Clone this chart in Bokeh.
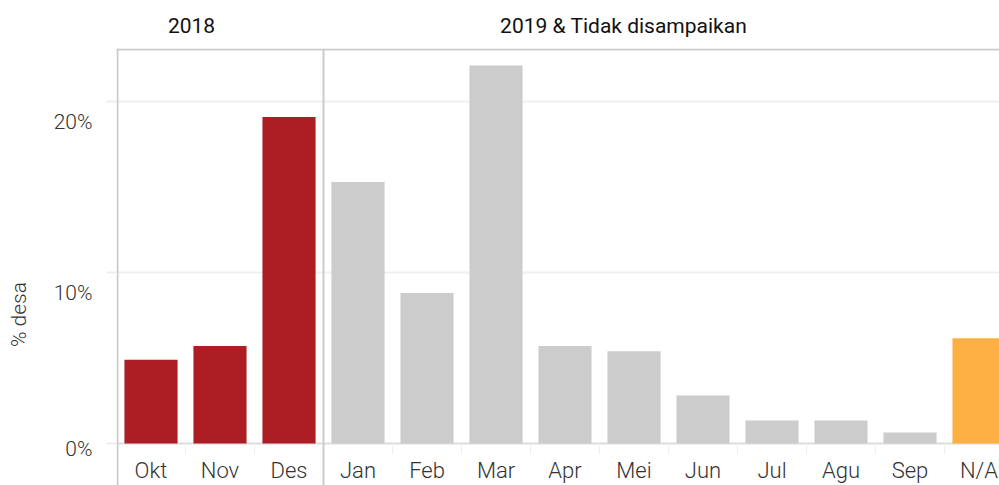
import numpy as np
from bokeh.plotting import figure
from bokeh.layouts import column, row
from bokeh.models import Range1d, Span, ColumnDataSource
from bokeh.core.properties import value
from bokeh.embed import file_html
from bokeh.resources import INLINE

# ---- data ----
months = ["Okt", "Nov", "Des", "Jan", "Feb", "Mar", "Apr", "Mei", "Jun", "Jul", "Agu", "Sep", "N/A"]
groups = ["2018", "2018", "2018", "2019", "2019", "2019", "2019", "2019", "2019", "2019", "2019", "2019", "NA"]
pct_desa = [4.9, 5.7, 19.1, 15.3, 8.8, 22.1, 5.7, 5.4, 2.8, 1.35, 1.35, 0.65, 6.15]
facet_titles = ["2018", "2019 & Tidak disampaikan"]
y_ticks = [0, 10, 20]
y_tick_labels = ["0%", "10%", "20%"]
y_title = "% desa"

group_colors = {"2018": "#AD1E24", "2019": "#CCCCCC", "NA": "#FDB042"}

FONT_LIGHT = value("'Roboto Light', Roboto")
FONT = value("Roboto")
TEXT_COLOR = "#333333"

W_LEFT, W_MAIN = 116, 883
H_TOP, H_MAIN = 48, 437

xs = np.arange(len(months)) + 0.5
src = ColumnDataSource(dict(
    x=xs, top=pct_desa, month=months,
    color=[group_colors[g] for g in groups],
))

x_range = Range1d(0, W_MAIN / 69.0)
y_range = Range1d(-2.456, 23.1)


def bare(fig):
    fig.outline_line_color = None
    fig.min_border = 0
    fig.min_border_left = fig.min_border_right = fig.min_border_top = fig.min_border_bottom = 0
    fig.xgrid.visible = False
    fig.ygrid.visible = False
    return fig


# ---- main panel ----
p = bare(figure(width=W_MAIN, height=H_MAIN, output_backend="svg", toolbar_location=None,
                x_range=x_range, y_range=y_range, x_axis_location=None, y_axis_location=None))

# gridlines (under the bars)
for t in y_ticks[1:]:
    p.add_layout(Span(location=t, dimension="width", line_color="#F0F0F0", line_width=2,
                      level="underlay"))
# baseline
p.add_layout(Span(location=0, dimension="width", line_color="#DDDDDD", line_width=2,
                  level="underlay"))

# bars
p.vbar(x="x", top="top", bottom=0, width=0.77, fill_color="color", line_color=None, source=src)

# category boundary ticks
bounds = np.arange(1, len(months))
p.segment(x0=bounds, x1=bounds, y0=0, y1=-0.6, line_color="#EEEEEE", line_width=1)

# category labels
p.text(x="x", y=0, text="month", source=src, text_align="center", text_baseline="top",
       y_offset=14, text_font=FONT_LIGHT, text_font_size="22px", text_color=TEXT_COLOR)

# facet borders
p.add_layout(Span(location=1 / 69.0, dimension="height", line_color="#CCCCCC", line_width=2))
p.add_layout(Span(location=3, dimension="height", line_color="#CCCCCC", line_width=2))
p.add_layout(Span(location=y_range.end - 1 / 17.1, dimension="width", line_color="#CCCCCC", line_width=2))

# ---- header with facet titles ----
head = bare(figure(width=W_LEFT + W_MAIN, height=H_TOP, output_backend="svg", toolbar_location=None,
                   x_range=Range1d(-W_LEFT / 69.0, W_MAIN / 69.0), y_range=Range1d(0, H_TOP),
                   x_axis_location=None, y_axis_location=None))
head.text(x=[1.087, 7.35], y=[23, 23], text=facet_titles, text_align="center",
          text_baseline="middle", text_font=FONT, text_font_size="21px", text_color="#111111")

# ---- left strip: y tick labels, ticks, axis title ----
left = bare(figure(width=W_LEFT, height=H_MAIN, output_backend="svg", toolbar_location=None,
                   x_range=Range1d(0, W_LEFT), y_range=y_range,
                   x_axis_location=None, y_axis_location=None))
left.segment(x0=106, x1=W_LEFT, y0=y_ticks, y1=y_ticks, line_color="#EEEEEE", line_width=2)
left.text(x=92, y=y_ticks, text=y_tick_labels, text_align="right", text_baseline="middle",
          y_offset=[5, 20, 20], text_font=FONT_LIGHT, text_font_size="21px", text_color=TEXT_COLOR)
left.text(x=18, y=7.54, text=[y_title], angle=np.pi / 2, text_align="center",
          text_baseline="middle", text_font=FONT_LIGHT, text_font_size="21px", text_color=TEXT_COLOR)

layout = column(head, row(left, p, spacing=0), spacing=0)

open("out.html", "w").write(file_html(layout, INLINE))
